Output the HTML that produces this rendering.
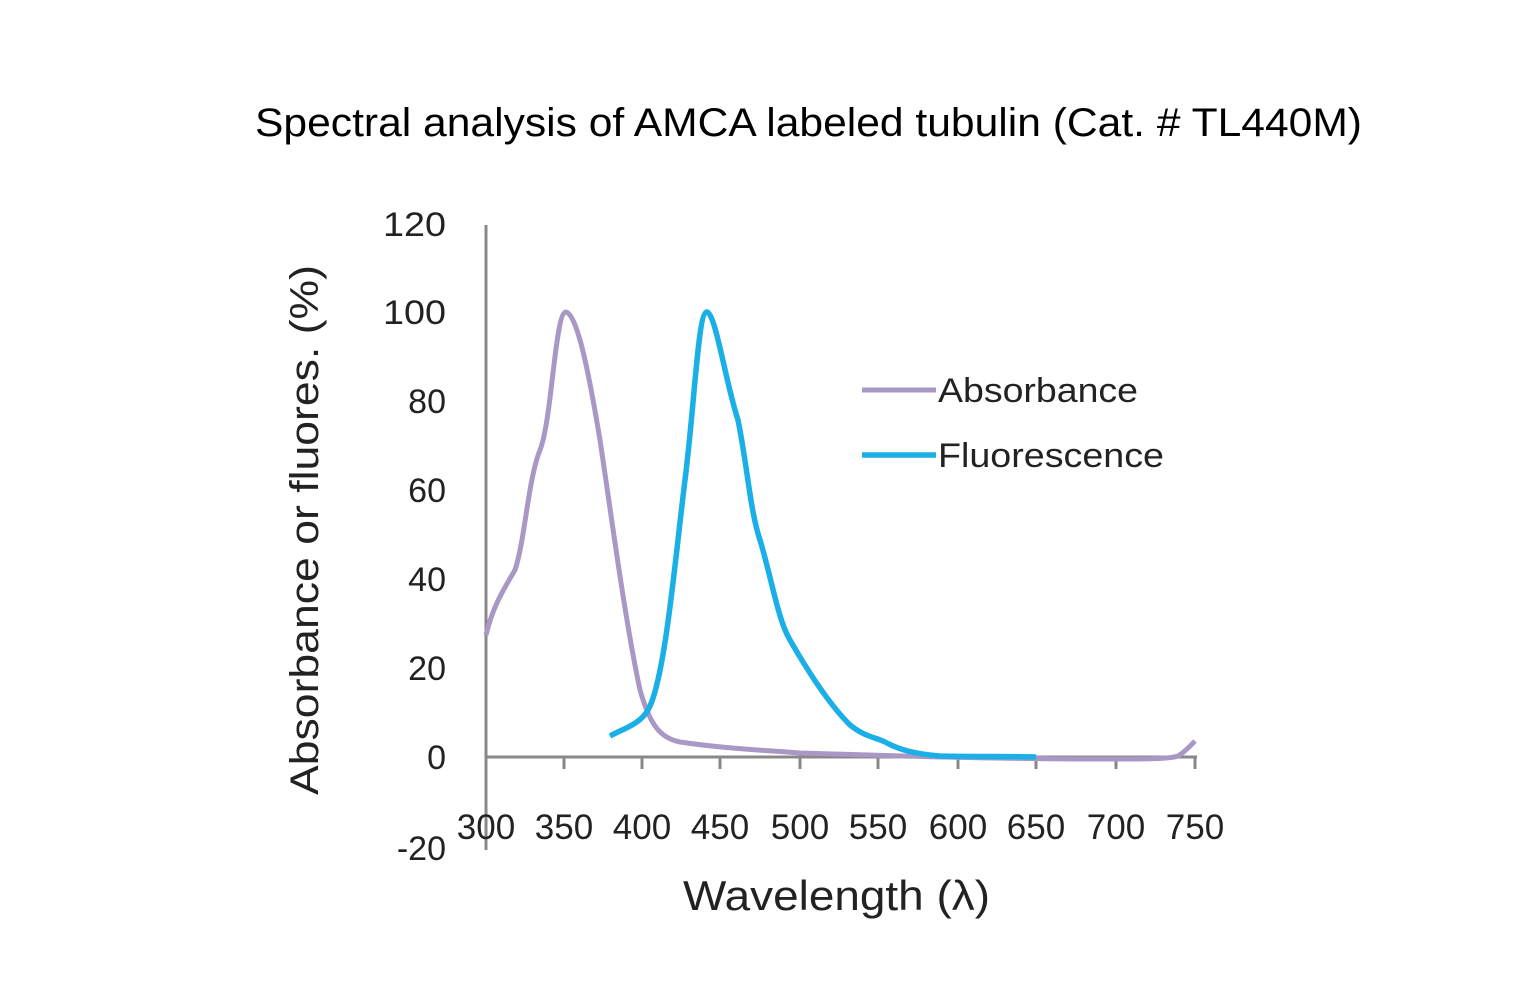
<!DOCTYPE html>
<html><head><meta charset="utf-8"><style>
body{margin:0;background:#fff;}
svg text{font-family:"Liberation Sans",sans-serif;}
</style></head><body>
<svg width="1524" height="1000" viewBox="0 0 1524 1000" xmlns="http://www.w3.org/2000/svg">
<text x="255" y="136" font-size="40" textLength="1107" lengthAdjust="spacingAndGlyphs" fill="#000">Spectral analysis of AMCA labeled tubulin (Cat. # TL440M)</text>
<line x1="486" y1="225" x2="486" y2="850" stroke="#888" stroke-width="3"/>
<line x1="486" y1="757" x2="1197" y2="757" stroke="#888" stroke-width="3"/>
<g stroke="#888" stroke-width="3">
<line x1="564" y1="757" x2="564" y2="769"/><line x1="642" y1="757" x2="642" y2="769"/>
<line x1="720" y1="757" x2="720" y2="769"/><line x1="800" y1="757" x2="800" y2="769"/>
<line x1="878" y1="757" x2="878" y2="769"/><line x1="958" y1="757" x2="958" y2="769"/>
<line x1="1036" y1="757" x2="1036" y2="769"/><line x1="1116" y1="757" x2="1116" y2="769"/>
<line x1="1195" y1="757" x2="1195" y2="769"/>
</g>
<g font-size="34" text-anchor="end" fill="#222">
<text x="446" y="236" textLength="63" lengthAdjust="spacingAndGlyphs">120</text>
<text x="446" y="324" textLength="63" lengthAdjust="spacingAndGlyphs">100</text>
<text x="446" y="413">80</text>
<text x="446" y="502">60</text><text x="446" y="591">40</text><text x="446" y="680">20</text>
<text x="446" y="769">0</text><text x="446" y="860">-20</text>
</g>
<g font-size="35" text-anchor="middle" fill="#222">
<text x="486" y="839">300</text><text x="564" y="839">350</text><text x="642" y="839">400</text>
<text x="720" y="839">450</text><text x="800" y="839">500</text><text x="878" y="839">550</text>
<text x="958" y="839">600</text><text x="1036" y="839">650</text><text x="1116" y="839">700</text>
<text x="1195" y="839">750</text>
</g>
<text x="683" y="910" font-size="42" textLength="307" lengthAdjust="spacingAndGlyphs" fill="#222">Wavelength (λ)</text>
<text transform="translate(318,795) rotate(-90)" font-size="40" textLength="530" lengthAdjust="spacingAndGlyphs" fill="#222">Absorbance or fluores. (%)</text>
<path d="M486,635 C492,610 500,595 515,570 C525,540 528,480 540,450 C552,420 555,312 566,312 C578,315 590,380 600,440 C612,520 625,620 640,690 C650,725 660,738 680,742 C720,748 760,750 800,753 C900,756 1000,759 1100,759 C1150,759 1170,759 1178,756 C1185,752 1190,746 1195,741" fill="none" stroke="#a998c6" stroke-width="5"/>
<path d="M610,736 C625,728 640,724 648,710 C665,680 675,560 685,480 C695,400 698,312 707,312 C716,315 725,380 738,420 C748,470 750,510 760,540 C772,580 778,620 790,640 C810,675 830,705 850,725 C865,737 875,737 885,742 C900,750 915,754 940,756 C980,757 1000,756 1036,757" fill="none" stroke="#1aafe6" stroke-width="5.5"/>
<line x1="862" y1="390" x2="936" y2="390" stroke="#a998c6" stroke-width="5"/>
<line x1="862" y1="455" x2="936" y2="455" stroke="#1aafe6" stroke-width="5.5"/>
<text x="938" y="402" font-size="34" textLength="200" lengthAdjust="spacingAndGlyphs" fill="#222">Absorbance</text>
<text x="938" y="467" font-size="34" textLength="226" lengthAdjust="spacingAndGlyphs" fill="#222">Fluorescence</text>
</svg>
</body></html>
